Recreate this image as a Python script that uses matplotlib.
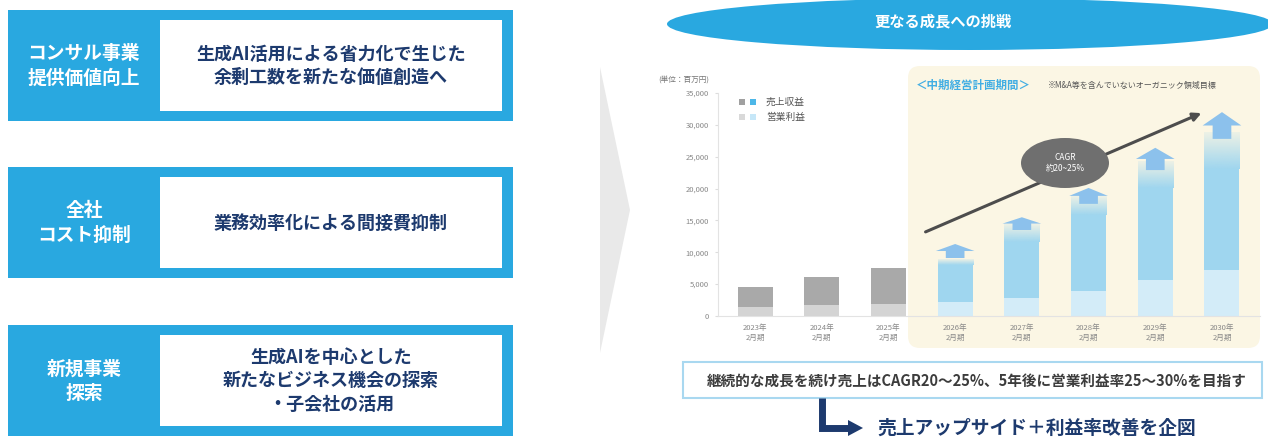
import numpy as np
import matplotlib.pyplot as plt
from matplotlib.patches import Rectangle, Ellipse, Polygon, FancyBboxPatch, FancyArrowPatch

plt.rcParams['font.family'] = ['Noto Sans CJK JP', 'DejaVu Sans']

W, H = 1268, 438
BLUE = '#29a8e0'
NAVY = '#1d3a6e'

# left side: themes and measures
themes = ['コンサル事業\n提供価値向上', '全社\nコスト抑制', '新規事業\n探索']
measures = ['生成AI活用による省力化で生じた\n余剰工数を新たな価値創造へ',
            '業務効率化による間接費抑制',
            '生成AIを中心とした\n新たなビジネス機会の探索\n・子会社の活用']
box_tops = [10, 167, 325]

# chart data (unit: million yen)
years = ['2023年\n2月期', '2024年\n2月期', '2025年\n2月期', '2026年\n2月期',
         '2027年\n2月期', '2028年\n2月期', '2029年\n2月期', '2030年\n2月期']
sales = [4550, 6100, 7500, 8000, 11600, 15800, 20100, 23000]
sales_top = [4550, 6100, 7500, 8900, 14300, 18700, 24200, 28700]
profit = [1400, 1700, 1900, 2200, 2800, 3900, 5600, 7200]
arrow_base = [0, 0, 0, 9100, 13500, 17600, 22900, 27800]
arrow_tip = [0, 0, 0, 11300, 15500, 20100, 26400, 32000]
n_actual = 3
yticks = [0, 5000, 10000, 15000, 20000, 25000, 30000, 35000]

fig = plt.figure(figsize=(W / 100, H / 100), dpi=100)

bg = fig.add_axes([0, 0, 1, 1], zorder=0)
bg.set_xlim(0, W)
bg.set_ylim(H, 0)
bg.axis('off')

# left boxes
for top, th, ms in zip(box_tops, themes, measures):
    bg.add_patch(Rectangle((8, top), 505, 111, color=BLUE, lw=0))
    bg.add_patch(Rectangle((160, top + 10), 342, 91, color='white', lw=0))
    bg.text(84, top + 56, th, color='white', fontsize=13.5, fontweight='bold',
            ha='center', va='center', linespacing=1.35)
    bg.text(331, top + 56, ms, color=NAVY, fontsize=13, fontweight='bold',
            ha='center', va='center', linespacing=1.3)

# chevron
bg.add_patch(Polygon([(600, 67), (630, 210), (600, 353)], closed=True,
                     color='#e9e9e9', lw=0))

# title ellipse
bg.add_patch(Ellipse((970, 24), 606, 52, color=BLUE, lw=0))
bg.text(943, 21, '更なる成長への挑戦', color='white', fontsize=11,
        fontweight='bold', ha='center', va='center')

# cream band for mid-term plan
bg.add_patch(FancyBboxPatch((908, 66), 352, 282, boxstyle='round,pad=0,rounding_size=12',
                            color='#fbf6e4', lw=0))
bg.text(916, 85, '＜中期経営計画期間＞', color='#42aee3', fontsize=8.3,
        fontweight='bold', ha='left', va='center')
bg.text(1048, 85, '※M&A等を含んでいないオーガニック領域目標', color='#555555',
        fontsize=5.8, ha='left', va='center')

# chart axes
ax = fig.add_axes([718 / W, (H - 316) / H, (1260 - 718) / W, (316 - 93) / H], zorder=1)
ax.patch.set_visible(False)
x = np.arange(len(years))
bw = 0.525
gray_dark, gray_light = '#a9a9a9', '#d4d4d4'
blue_dark, blue_light = '#9fd6ef', '#d3ecf8'
cols_s = [gray_dark if i < n_actual else blue_dark for i in x]
cols_p = [gray_light if i < n_actual else blue_light for i in x]
ax.bar(x, np.array(sales) - np.array(profit), bw, bottom=profit, color=cols_s, lw=0)
ax.bar(x, profit, bw, color=cols_p, lw=0)

# fading tops and arrows on plan bars
for i in range(n_actual, len(years)):
    grad = np.ones((64, 1, 4))
    grad[:, 0, :3] = np.array([0x9f, 0xd6, 0xef]) / 255
    grad[:, 0, 3] = np.linspace(1, 0.15, 64)
    ax.imshow(grad, extent=(x[i] - bw / 2, x[i] + bw / 2, sales[i], sales_top[i]),
              origin='lower', aspect='auto', zorder=2)
    b, t = arrow_base[i], arrow_tip[i]
    hb = b + (t - b) * 0.5
    sw, hw = 0.14, 0.29
    ax.add_patch(Polygon([(x[i] - sw, b), (x[i] + sw, b), (x[i] + sw, hb),
                          (x[i] + hw, hb), (x[i], t), (x[i] - hw, hb),
                          (x[i] - sw, hb)], closed=True, color='#8cc1ec', lw=0, zorder=3))

ax.set_xlim(-0.555, 7.57)
ax.set_ylim(0, 35000)
ax.set_yticks(yticks)
ax.set_yticklabels([f'{v:,}' for v in yticks])
ax.set_xticks(x)
ax.set_xticklabels(years)
ax.tick_params(axis='y', length=2.5, pad=4, labelsize=5.5, colors='#dddddd',
               labelcolor='#888888')
ax.tick_params(axis='x', length=0, pad=6, labelsize=5.5, labelcolor='#888888')
for lbl in ax.get_xticklabels():
    lbl.set_linespacing(1.2)
for s in ['top', 'right']:
    ax.spines[s].set_visible(False)
ax.spines['left'].set_color('#e3e3e3')
ax.spines['bottom'].set_color('#e3e3e3')
ax.spines['left'].set_linewidth(0.8)
ax.spines['bottom'].set_linewidth(0.8)

# foreground decorations
fg = fig.add_axes([0, 0, 1, 1], zorder=2)
fg.set_xlim(0, W)
fg.set_ylim(H, 0)
fg.axis('off')

fg.text(684, 80, '(単位：百万円)', color='#777777', fontsize=5.5, ha='center', va='center')
fg.add_patch(Rectangle((739, 99), 6, 6, color='#a0a0a0', lw=0))
fg.add_patch(Rectangle((750, 99), 6, 6, color='#4db7e8', lw=0))
fg.add_patch(Rectangle((739, 114), 6, 6, color='#d9d9d9', lw=0))
fg.add_patch(Rectangle((750, 114), 6, 6, color='#c6e7f8', lw=0))
fg.text(766, 102, '売上収益', color='#555555', fontsize=7, ha='left', va='center')
fg.text(766, 117, '営業利益', color='#555555', fontsize=7, ha='left', va='center')

fg.add_patch(FancyArrowPatch((923, 233), (1204, 112), arrowstyle='-|>', mutation_scale=12,
                             color='#4d4d4d', lw=2.2))
fg.add_patch(Ellipse((1065, 163), 88, 50, color='#6f6f6f', lw=0))
fg.text(1065, 163, 'CAGR\n約20~25%', color='white', fontsize=6, ha='center',
        va='center', linespacing=1.4)

# summary box and conclusion
fg.add_patch(Rectangle((683, 362), 579, 36, facecolor='white', edgecolor='#a9d8f0', lw=1.5))
fg.text(977, 381, '継続的な成長を続け売上はCAGR20～25%、5年後に営業利益率25～30%を目指す',
        color='#3c3c3c', fontsize=10.5, fontweight='semibold', ha='center', va='center')
fg.plot([822, 822, 850], [398, 428, 428], color=NAVY, lw=5, solid_joinstyle='miter',
        solid_capstyle='butt')
fg.add_patch(Polygon([(848, 420), (863, 428), (848, 436)], closed=True, color=NAVY, lw=0))
fg.text(877, 428, '売上アップサイド＋利益率改善を企図', color=NAVY, fontsize=13.5,
        fontweight='bold', ha='left', va='center')

fig.savefig('out.png', dpi=100)
